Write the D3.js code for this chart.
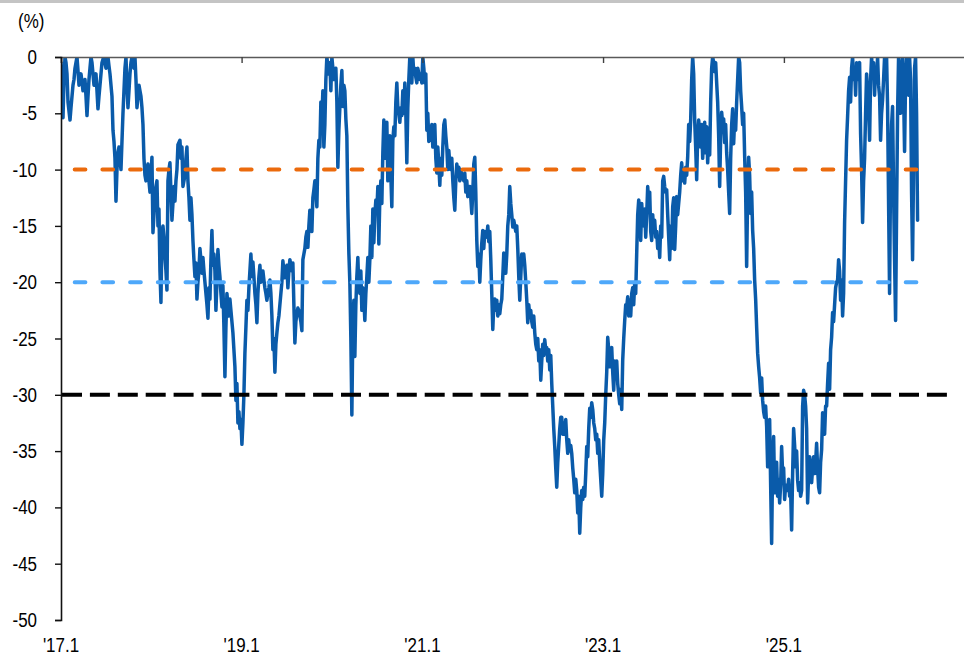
<!DOCTYPE html>
<html><head><meta charset="utf-8">
<script src="https://cdn.jsdelivr.net/npm/d3@7"></script>
<style>body{margin:0;background:#fff}svg{display:block}text{font-family:"Liberation Sans",Arial,sans-serif}</style>
</head><body>
<svg id="chart" width="964" height="656"></svg>
<script>
// ---- data ----
const startDate = "2017-01-01";   // first observation
const stepDays = 4.04;            // sampling interval of the series (days)
const drawdown = [
-0.5,-3,-5.4,-2,0,-0.5,-1.5,-4,-4.8,-5.6,
-4.5,-3.5,-2.5,-2,-1,-0.5,0,-1.2,-2.5,-2,
-1.5,-2.2,-3,-2.5,-2,-3.5,-5.2,-3.5,-2,-1,
0,-0.5,-1.5,-2.5,-2,-1.5,-3,-4.6,-3.5,-2.5,
-1.5,-0.5,-0.2,0,-0.5,-1,-0.5,0,-0.8,-1.5,
-2.5,-3.5,-6.5,-7.5,-9,-12.8,-10,-8.5,-8,-9,
-10,-7.5,-5,-3,-1,0,-2.5,-4.5,-3,-1.5,
-0.5,0,-0.5,-1,0,-2,-4.5,-3.5,-2.5,-3,
-3.5,-4.5,-6,-9,-10.5,-11,-10,-9.5,-11,-12,
-10.5,-8.9,-15.6,-14,-12,-11.5,-11,-15,-13.5,-19,
-21.8,-15.6,-15,-16,-17.8,-19,-20.7,-11,-10,-9.4,
-12,-14.5,-13,-11.5,-12.8,-11,-10,-7.8,-7.6,-7.4,
-9,-8,-11.5,-11,-10.5,-9,-8,-11,-12.5,-14.5,
-12.5,-14,-16.3,-18,-19.5,-18.3,-21.5,-20,-19,-17,
-18,-19.2,-17.8,-19,-20,-21,-22,-23.2,-20.5,-21.5,
-18,-15.4,-18.5,-17.5,-19,-22.5,-20,-17.1,-18.5,-19.5,
-21,-22.2,-20.3,-24,-28.4,-24,-21,-22,-23,-21.5,
-22.5,-23.5,-24.5,-26,-27.5,-30.5,-29,-32.5,-31.5,-33,
-32.2,-34.4,-32.5,-30,-26.3,-24,-21.6,-22.5,-20.5,-19,
-17.5,-19.5,-18.2,-19.5,-21,-22,-23.6,-21,-19.5,-18.5,
-20,-19.5,-19,-19.8,-20.5,-21,-21.6,-21,-20.5,-19.8,
-21,-23,-26,-25,-28,-25.5,-24.5,-23.6,-23,-22,
-21,-20,-18.1,-19,-19.6,-19,-18.5,-20.5,-19,-18,
-18.5,-19,-18.3,-22,-25.4,-23.5,-22.8,-22.3,-22.5,-23,
-23.5,-24.3,-18,-17.5,-17,-16,-15.5,-16.9,-15,-13.6,
-14.5,-15.5,-12.5,-11.8,-11,-12,-13.3,-9,-7.4,-8,
-4,-5.5,-3,-8,-6,-2,0,-0.8,-1.5,-0.5,
-3,0,-1,-2,-1.5,-1,-4,-9.8,-6.5,-4.5,
-2.5,-1.2,-4.4,-2.5,-3,-5.5,-7,-13.3,-17.4,-20,
-25,-31.8,-24,-21.6,-26.6,-22,-19.5,-17.8,-20.5,-21,
-19,-22.5,-20.5,-21.5,-23.4,-21,-19.5,-17.8,-20,-18,
-15,-17.8,-13.5,-16.5,-14,-12.7,-13.7,-11.5,-16.6,-12.5,
-11,-13,-8.5,-5.6,-9,-7.5,-5.8,-11,-8.5,-7,
-10.5,-13.3,-7.4,-6.2,-7,-4,-2.3,-4.5,-5,-5.8,
-4.5,-5.2,-3,-5,-2.3,-5,-9.4,-4.5,-2,0,
-1,-2.3,0,-1.5,-1,-1.8,-2.3,-1,-1.5,-2,
-1.5,-2.3,0,-1,-2.3,-1.5,-6.5,-5,-7.5,-6.5,
-7.4,-6,-8,-7,-6,-9,-10.3,-8,-9.5,-11.4,
-9,-10.5,-8,-6,-5.6,-7,-8,-10,-8.3,-9.5,
-10,-9,-11,-12.5,-13.6,-11,-9.5,-10.5,-9.8,-11,
-10,-10.5,-10.8,-11,-10.3,-12,-11,-12.4,-12,-11.5,
-12.5,-13.9,-12,-9.5,-8.9,-12,-16.3,-18.6,-17.5,-20,
-18,-16.5,-15.4,-17,-15.5,-15.8,-16,-15,-16.4,-15.5,
-18,-21,-24.2,-22,-21.5,-22.5,-21.6,-23,-22,-22.8,
-22,-21.5,-19.5,-17.4,-18,-19.2,-17.5,-15,-14,-11.5,
-13,-14,-15.1,-14.5,-15,-15.5,-15,-17,-19.5,-21.6,
-19.5,-17.5,-18,-17.5,-18.5,-20,-21.6,-23.6,-22,-23,
-22.5,-23.5,-24,-23,-24.5,-25.5,-26,-25,-27,-26,
-28.7,-27,-25.5,-26.5,-25.1,-26,-25.8,-27,-26,-27.8,
-26.5,-29,-31,-33,-34.6,-36.5,-38.2,-36,-34.5,-33,
-32,-32,-33.5,-32.5,-33.5,-32.2,-34,-35.2,-34,-35,
-34.5,-35.2,-36.5,-37.5,-38.7,-37.5,-38.5,-40.5,-39,-42.3,
-40,-38.5,-39.3,-38.2,-39,-37,-34.6,-35.5,-33,-31.2,
-32,-30.7,-31.3,-32.5,-33,-34,-33.5,-35.2,-34,-36,
-37.5,-39,-37,-34,-32.5,-30,-28,-24.9,-26,-27.5,
-26,-25.8,-28,-29.6,-27,-28.5,-27,-29,-30,-30.8,
-29.5,-31.3,-26.9,-25,-23.4,-22,-22.2,-21.3,-23,-21.6,
-23,-21,-20.5,-22,-20,-21,-17.4,-14,-12.7,-13.5,
-16.3,-13,-14.5,-15,-13.5,-16,-14,-11.5,-13,-12,
-15.5,-16.3,-14,-15.5,-14.5,-16,-15.5,-17,-16,-17.8,
-15,-16,-11,-10.6,-11.5,-12,-11.8,-14,-16,-18,
-15,-17,-13.3,-12.5,-17.1,-15,-12.4,-14,-13,-12,
-10.5,-9.4,-11,-10,-11.2,-9.8,-10.5,-8.9,-6,-7.5,
-5.6,-2,0,-1.5,-5.6,-8,-10.9,-7,-5.6,-6.5,
-8,-6,-9,-6.5,-5.8,-8.5,-6.2,-9.4,-7,-8.7,
-4,-1,0,-0.5,-1.3,-0.5,-2.3,-4,-7,-11.5,
-7,-4.9,-6,-5.5,-7.6,-6,-8.5,-10,-12,-13.9,
-9,-6,-4.6,-7.7,-5.5,-6.5,-4,-2,0,-0.5,
-3,-4.4,-6,-5,-8.8,-12,-18.6,-12,-8.9,-10.5,
-13.9,-12,-15.4,-17,-19.8,-21.5,-24,-26.3,-27.5,-28.5,
-29.8,-28.5,-30.5,-31.5,-32,-31,-32.8,-36.4,-34,-32.2,
-38,-43.2,-36,-33.7,-38.7,-37.5,-36,-39,-37.5,-39.6,
-38,-34.6,-37,-36.5,-39.3,-38,-38.5,-38.5,-37.5,-39,
-38.5,-42,-37,-33,-34.5,-36.4,-35,-37.6,-38.5,-37.8,
-39,-38.5,-31,-29.6,-30,-31,-33,-39.6,-37,-35.5,
-36.5,-37.8,-36.5,-35.5,-37,-36,-34.3,-36.5,-38.2,-38.7,
-36,-34.9,-31.6,-33,-33.5,-31,-31,-29,-27.2,-29.5,
-26,-24.9,-22.7,-23.5,-22,-20.5,-20,-19.8,-18,-19,
-21.6,-19.8,-23,-21,-14.7,-11,-7.4,-5.3,-3,-1.8,
-4,-1,0,-2,-1,-3.4,-0.5,-2,-1,-0.5,
-6.8,-10,-14.7,-11,-9,-5,-1.5,-3,-4.5,-7.4,
-2,0,-1.5,-0.5,-3.4,-1,-2,0,-2.5,-3.5,
-7.4,-5,-3.8,-2,0,-1,0,-4.4,-13,-21,
-10,-6,-4.4,-12,-18,-23.4,-14,-5,0,-2,
-5,-1,0,-3,-8.4,-2,0,-1,-3.4,0,
-2,-12,-18,-10,-1,0,-5,-14.5
];
const yTickValues = [0,-5,-10,-15,-20,-25,-30,-35,-40,-45,-50];
const xTickDates = ["2017-01-01","2019-01-01","2021-01-01","2023-01-01","2025-01-01","2027-01-01"];
const xTickLabels = ["'17.1","'19.1","'21.1","'23.1","'25.1",""];
const thresholds = [-10,-20,-30];
const thresholdColors = ["#EB6A0C","#4EA8FA","#000000"];
const unitLabel = "(%)";

// ---- layout ----
const W = 964, H = 656;
const mLeft = 61, mTop = 57, mBottom = 620, mRight = 964.5;
const parse = d3.timeParse("%Y-%m-%d");
const t0 = parse(startDate);
const series = drawdown.map((v,i)=>({date:new Date(t0.getTime()+i*stepDays*864e5), v}));

const x = d3.scaleTime().domain([parse("2017-01-01"), parse("2027-01-01")]).range([mLeft, mRight]);
const y = d3.scaleLinear().domain([0,-50]).range([mTop, mBottom]);

const svg = d3.select("#chart");
svg.append("rect").attr("x",0).attr("y",0).attr("width",W).attr("height",3).attr("fill","#c4c4c4");

svg.append("defs").append("clipPath").attr("id","plot")
  .append("rect").attr("x",mLeft).attr("y",mTop).attr("width",mRight-mLeft).attr("height",mBottom-mTop+4);

// data line
svg.append("path").datum(series)
  .attr("clip-path","url(#plot)")
  .attr("fill","none").attr("stroke","#0A5BAA").attr("stroke-width",3.5)
  .attr("stroke-linejoin","round").attr("stroke-linecap","round")
  .attr("d", d3.line().x(d=>x(d.date)).y(d=>y(d.v)));

// threshold lines
const lastX = x(series[series.length-1].date);
thresholds.forEach((t,i)=>{
  const isBlack = i===2;
  svg.append("line")
    .attr("x1", isBlack ? mLeft+1 : mLeft+13.7)
    .attr("x2", isBlack ? 948 : lastX+1)
    .attr("y1", y(t)).attr("y2", y(t))
    .attr("stroke", thresholdColors[i]).attr("stroke-width",4)
    .attr("stroke-linecap", isBlack ? "butt" : "round")
    .attr("stroke-dasharray", isBlack ? "20,7.9" : "10.7,17");
});

// top x axis
const xAxis = d3.axisBottom(x).tickValues(xTickDates.map(parse)).tickSize(6).tickFormat("");
const gx = svg.append("g").attr("transform",`translate(0,${mTop})`).call(xAxis);
gx.select(".domain").attr("stroke","#595959").attr("stroke-width",1.6);
gx.selectAll(".tick line").attr("stroke","#404040").attr("stroke-width",1.4);

// y axis
const yAxis = d3.axisLeft(y).tickValues(yTickValues).tickSize(6).tickFormat("");
const gy = svg.append("g").attr("transform",`translate(${mLeft},0)`).call(yAxis);
gy.select(".domain").attr("stroke","#111").attr("stroke-width",1.6);
gy.selectAll(".tick line").attr("stroke","#111").attr("stroke-width",1.4);

const sx = 0.87, fs = 19.5;
// y labels
svg.append("g").selectAll("text").data(yTickValues).join("text")
  .attr("transform", d=>`translate(37,${y(d)+7}) scale(${sx},1)`)
  .attr("text-anchor","end").attr("font-size",fs).attr("fill","#000")
  .text(d=>String(d));
// x labels at bottom
svg.append("g").selectAll("text").data(xTickDates.map((d,i)=>({d:parse(d), l:xTickLabels[i]}))).join("text")
  .attr("transform", d=>`translate(${x(d.d)},652) scale(${sx},1)`)
  .attr("text-anchor","middle").attr("font-size",fs).attr("fill","#000")
  .text(d=>d.l);
// unit
svg.append("text").attr("transform","translate(18,28) scale(0.87,1)")
  .attr("font-size",fs).attr("fill","#000").text(unitLabel);
</script>
</body></html>
